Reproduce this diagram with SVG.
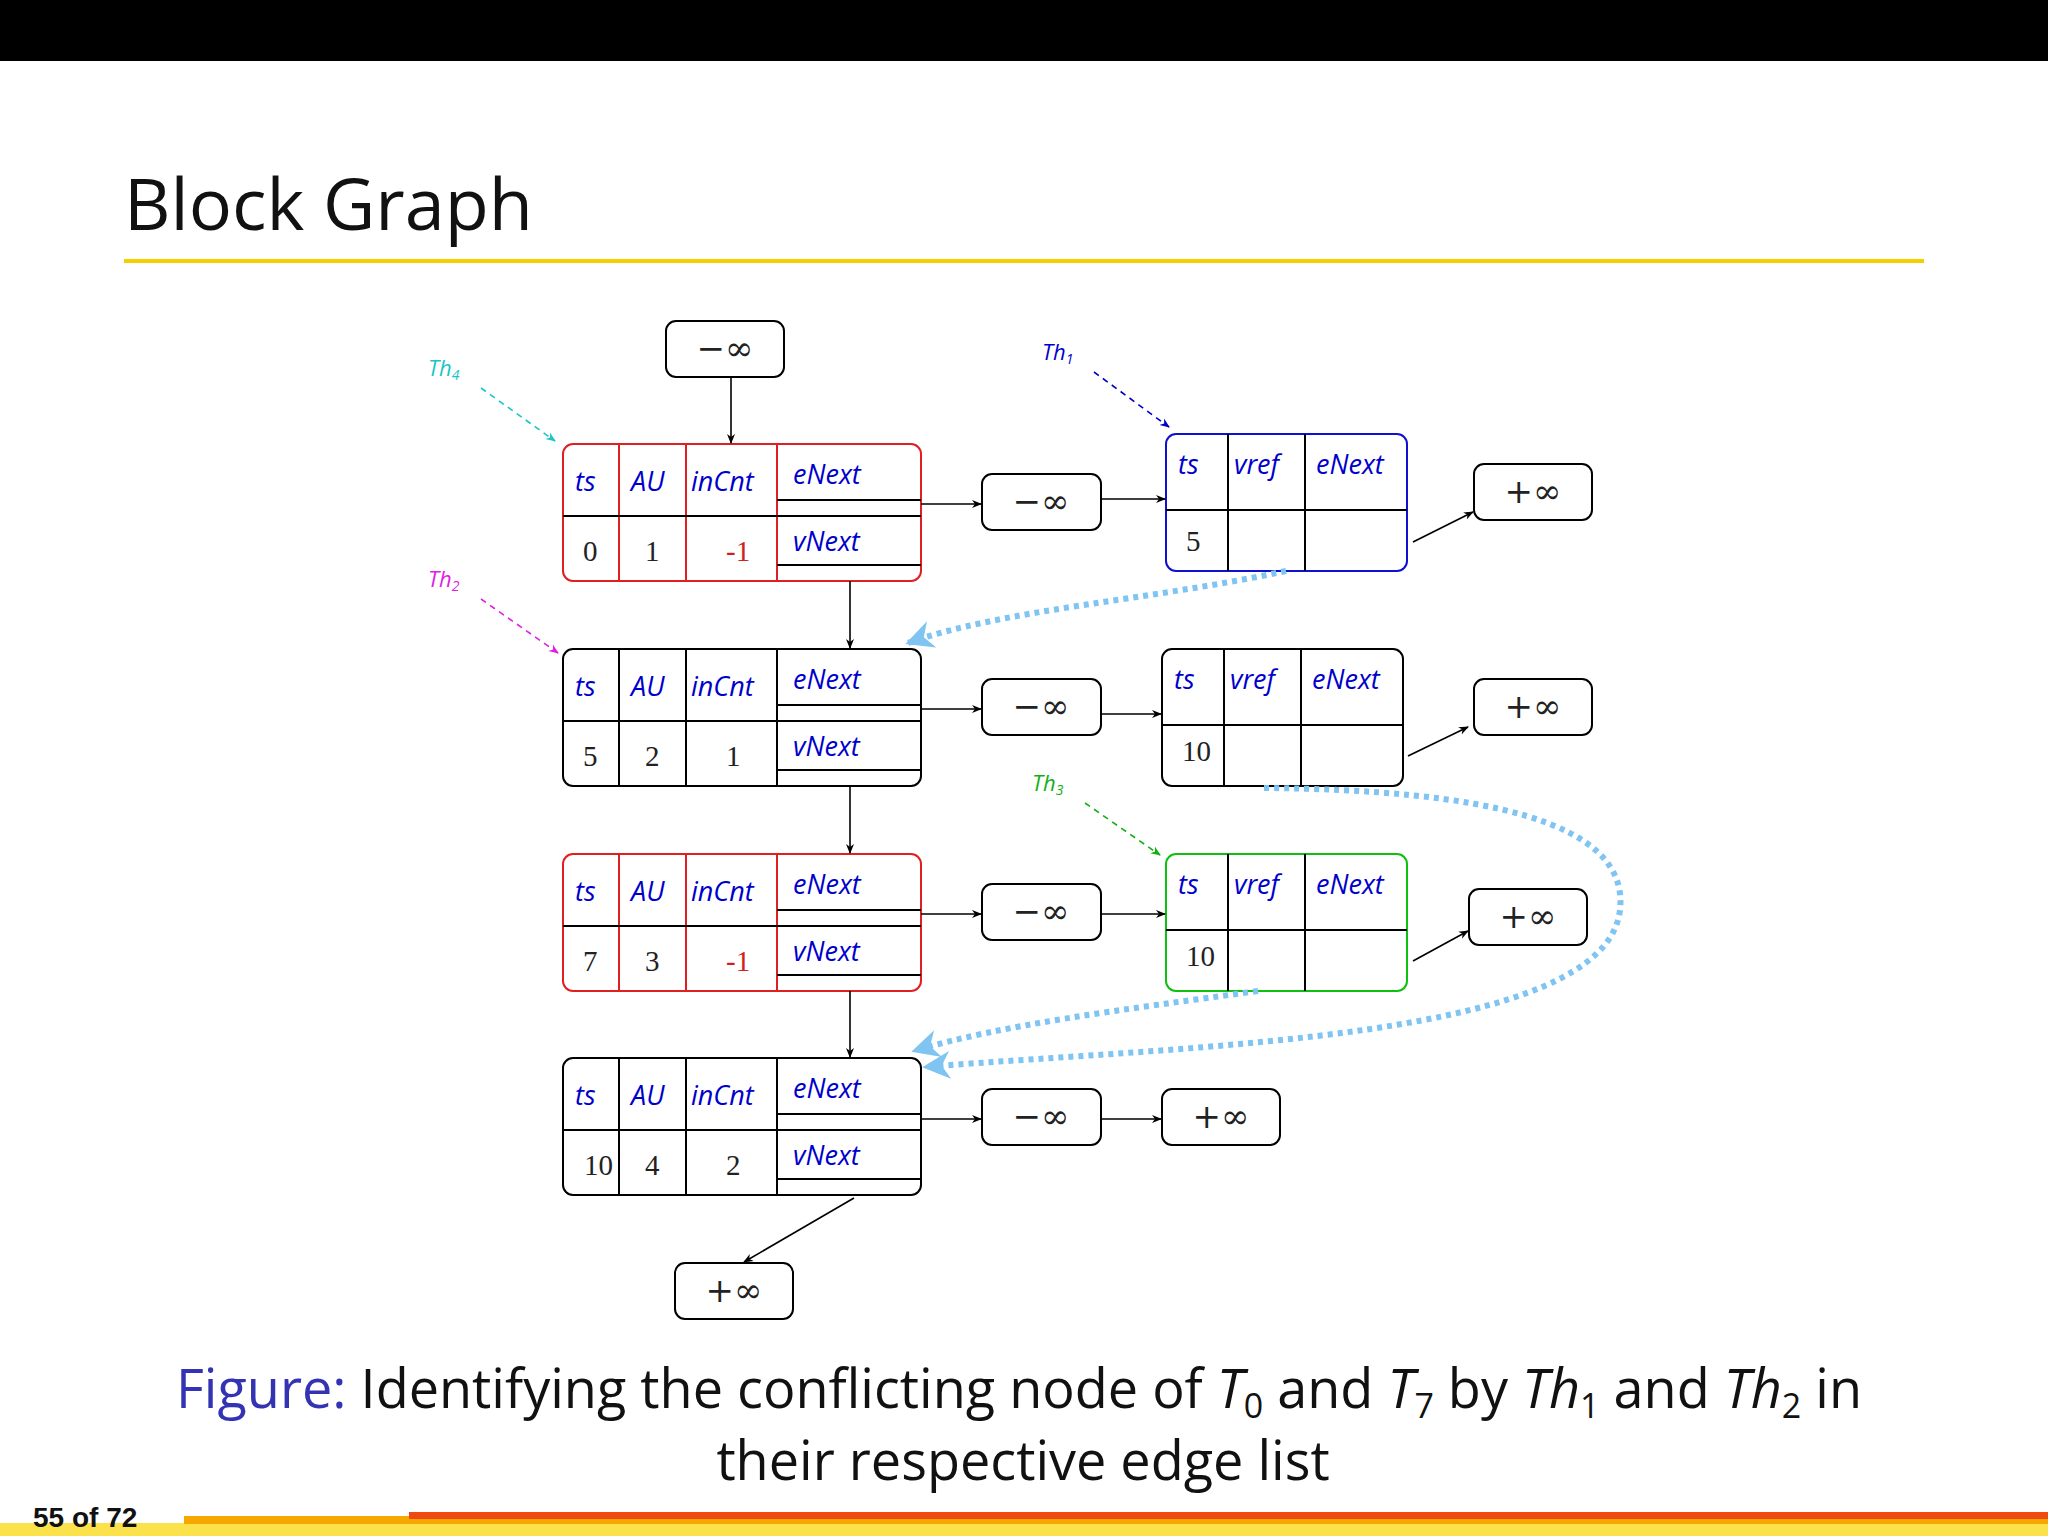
<svg xmlns="http://www.w3.org/2000/svg" width="2048" height="1536" viewBox="0 0 2048 1536">
<style>
.n{fill:#fff;stroke:#000;stroke-width:2}
.l{stroke:#000;stroke-width:2;fill:none}
.lb{font-family:"Open Sans","DejaVu Sans",sans-serif;font-style:italic;font-size:27px;fill:#0000cc;stroke:none}
.v{font-family:"Liberation Serif",serif;font-size:29px;fill:#222;stroke:none}
.v.r{fill:#d02020}
.inf{font-family:"DejaVu Serif","Liberation Serif",serif;font-size:34px;fill:#222;text-anchor:middle}
.c{stroke:#000;stroke-width:1.6;fill:none;marker-end:url(#a)}
.th{font-family:"Open Sans","DejaVu Sans",sans-serif;font-style:italic;font-size:22px}
.cap{font-family:"Open Sans","DejaVu Sans",sans-serif;font-size:54px;fill:#111}
.dot{stroke:#80c4f2;stroke-width:6;stroke-dasharray:5 5;fill:none;marker-end:url(#b)}
</style>
<defs>
<marker id="a" viewBox="0 0 10 10" refX="9" refY="5" markerWidth="10" markerHeight="10" markerUnits="userSpaceOnUse" orient="auto"><path d="M0,1 L10,5 L0,9 L3,5z" fill="#000"/></marker>
<marker id="b" viewBox="0 0 10 10" refX="9" refY="5" markerWidth="28" markerHeight="28" markerUnits="userSpaceOnUse" orient="auto"><path d="M0,0 L10,5 L0,10 L3,5z" fill="#80c4f2"/></marker>
<marker id="dc" viewBox="0 0 10 10" refX="9" refY="5" markerWidth="10" markerHeight="10" markerUnits="userSpaceOnUse" orient="auto"><path d="M0,1 L10,5 L0,9 L3,5z" fill="#1cc4c4"/></marker>
<marker id="db" viewBox="0 0 10 10" refX="9" refY="5" markerWidth="10" markerHeight="10" markerUnits="userSpaceOnUse" orient="auto"><path d="M0,1 L10,5 L0,9 L3,5z" fill="#0000cc"/></marker>
<marker id="dm" viewBox="0 0 10 10" refX="9" refY="5" markerWidth="10" markerHeight="10" markerUnits="userSpaceOnUse" orient="auto"><path d="M0,1 L10,5 L0,9 L3,5z" fill="#e020e0"/></marker>
<marker id="dg" viewBox="0 0 10 10" refX="9" refY="5" markerWidth="10" markerHeight="10" markerUnits="userSpaceOnUse" orient="auto"><path d="M0,1 L10,5 L0,9 L3,5z" fill="#10b010"/></marker>
<g id="big">
<rect class="n" x="0" y="0" width="358" height="137" rx="10" style="stroke:inherit"/>
<path class="l" style="stroke:inherit" d="M56,0V137M123,0V137M214,0V137"/>
<path class="l" d="M0,72H358M214,56H358M214,121H358"/>
<text class="lb" x="12" y="47">ts</text><text class="lb" x="68" y="47">AU</text><text class="lb" x="128" y="47">inCnt</text>
<text class="lb" x="230" y="40">eNext</text><text class="lb" x="230" y="107">vNext</text>
</g>
<g id="sm">
<rect class="n" x="0" y="0" width="241" height="137" rx="10" style="stroke:inherit"/>
<path class="l" d="M62,0V137M139,0V137M0,76H241"/>
<text class="lb" x="12" y="40">ts</text><text class="lb" x="68" y="40">vref</text><text class="lb" x="150" y="40">eNext</text>
</g>
</defs>
<rect x="0" y="0" width="2048" height="61" fill="#000"/>
<text x="124" y="230" font-family="Open Sans,DejaVu Sans,sans-serif" font-size="72" fill="#111">Block Graph</text>
<rect x="124" y="259" width="1800" height="4" fill="#f5d000"/>

<g id="top"><rect class="n" x="666" y="321" width="118" height="56" rx="10"/><text class="inf" x="725" y="360">−∞</text></g>

<g id="n1" style="stroke:#e02020"><use href="#big" x="563" y="444"/><text class="v" x="583" y="561">0</text><text class="v" x="645" y="561">1</text><text class="v r" x="726" y="561">-1</text></g>
<g id="n2" style="stroke:#000"><use href="#big" x="563" y="649"/><text class="v" x="583" y="766">5</text><text class="v" x="645" y="766">2</text><text class="v" x="726" y="766">1</text></g>
<g id="n3" style="stroke:#e02020"><use href="#big" x="563" y="854"/><text class="v" x="583" y="971">7</text><text class="v" x="645" y="971">3</text><text class="v r" x="726" y="971">-1</text></g>
<g id="n4" style="stroke:#000"><use href="#big" x="563" y="1058"/><text class="v" x="584" y="1175">10</text><text class="v" x="645" y="1175">4</text><text class="v" x="726" y="1175">2</text></g>

<g id="m1"><rect class="n" x="982" y="474" width="119" height="56" rx="10"/><text class="inf" x="1041" y="513">−∞</text></g>
<g id="m2"><rect class="n" x="982" y="679" width="119" height="56" rx="10"/><text class="inf" x="1041" y="718">−∞</text></g>
<g id="m3"><rect class="n" x="982" y="884" width="119" height="56" rx="10"/><text class="inf" x="1041" y="923">−∞</text></g>
<g id="m4"><rect class="n" x="982" y="1089" width="119" height="56" rx="10"/><text class="inf" x="1041" y="1128">−∞</text></g>

<g id="s1" style="stroke:#1010d0"><use href="#sm" x="1166" y="434"/><text class="v" x="1186" y="551">5</text></g>
<g id="s2" style="stroke:#000"><use href="#sm" x="1162" y="649"/><text class="v" x="1182" y="761">10</text></g>
<g id="s3" style="stroke:#10c010"><use href="#sm" x="1166" y="854"/><text class="v" x="1186" y="966">10</text></g>

<g id="p1"><rect class="n" x="1474" y="464" width="118" height="56" rx="10"/><text class="inf" x="1533" y="503">+∞</text></g>
<g id="p2"><rect class="n" x="1474" y="679" width="118" height="56" rx="10"/><text class="inf" x="1533" y="718">+∞</text></g>
<g id="p3"><rect class="n" x="1469" y="889" width="118" height="56" rx="10"/><text class="inf" x="1528" y="928">+∞</text></g>
<g id="p4"><rect class="n" x="1162" y="1089" width="118" height="56" rx="10"/><text class="inf" x="1221" y="1128">+∞</text></g>
<g id="p5"><rect class="n" x="675" y="1263" width="118" height="56" rx="10"/><text class="inf" x="734" y="1302">+∞</text></g>

<g id="labels">
<text class="th" x="428" y="376" fill="#1cc4c4">Th<tspan font-size="14" dy="4">4</tspan></text>
<text class="th" x="1042" y="360" fill="#0000cc">Th<tspan font-size="14" dy="4">1</tspan></text>
<text class="th" x="428" y="587" fill="#e020e0">Th<tspan font-size="14" dy="4">2</tspan></text>
<text class="th" x="1032" y="791" fill="#10b010">Th<tspan font-size="14" dy="4">3</tspan></text>
</g>

<g id="connectors">
<path class="c" d="M731,377V443"/>
<path class="c" d="M850,581V648"/>
<path class="c" d="M850,786V853"/>
<path class="c" d="M850,991V1057"/>
<path class="c" d="M921,504H981"/><path class="c" d="M921,709H981"/><path class="c" d="M921,914H981"/><path class="c" d="M921,1119H981"/>
<path class="c" d="M1101,499H1165"/><path class="c" d="M1101,714H1161"/><path class="c" d="M1101,914H1165"/>
<path class="c" d="M1101,1119H1161"/>
<path class="c" d="M1413,542L1473,512"/><path class="c" d="M1408,756L1468,727"/><path class="c" d="M1413,961L1468,931"/>
<path class="c" d="M854,1198L744,1262"/>
<path d="M481,388L555,441" stroke="#1cc4c4" stroke-width="1.6" stroke-dasharray="6 5" fill="none" marker-end="url(#dc)"/>
<path d="M1094,372L1169,427" stroke="#0000cc" stroke-width="1.6" stroke-dasharray="6 5" fill="none" marker-end="url(#db)"/>
<path d="M481,599L558,653" stroke="#e020e0" stroke-width="1.6" stroke-dasharray="6 5" fill="none" marker-end="url(#dm)"/>
<path d="M1085,803L1160,855" stroke="#10b010" stroke-width="1.6" stroke-dasharray="6 5" fill="none" marker-end="url(#dg)"/>
<path class="dot" d="M1286,571C1150,600 1000,610 908,643"/>
<path class="dot" d="M1258,991C1120,1010 1000,1025 914,1051"/>
<path class="dot" d="M1264,788C1480,790 1630,820 1620,910C1605,1040 1200,1045 925,1067"/>
</g>

<text class="cap" x="176" y="1408"><tspan fill="#3333b3">Figure:</tspan> Identifying the conflicting node of <tspan font-style="italic">T</tspan><tspan font-size="34" dy="10">0</tspan><tspan dy="-10"> and </tspan><tspan font-style="italic">T</tspan><tspan font-size="34" dy="10">7</tspan><tspan dy="-10"> by </tspan><tspan font-style="italic">Th</tspan><tspan font-size="34" dy="10">1</tspan><tspan dy="-10"> and </tspan><tspan font-style="italic">Th</tspan><tspan font-size="34" dy="10">2</tspan><tspan dy="-10"> in</tspan></text>
<text class="cap" x="1023" y="1480" text-anchor="middle">their respective edge list</text>

<rect x="0" y="1523" width="2048" height="13" fill="#fbe24a"/>
<rect x="184" y="1516" width="225" height="8" fill="#f7a800"/>
<rect x="409" y="1512" width="1639" height="7" fill="#f04a10"/>
<rect x="409" y="1519" width="1639" height="5" fill="#f7a800"/>
<text x="33" y="1527" font-family="Liberation Sans,sans-serif" font-weight="bold" font-size="28" fill="#111">55 of 72</text>
</svg>
